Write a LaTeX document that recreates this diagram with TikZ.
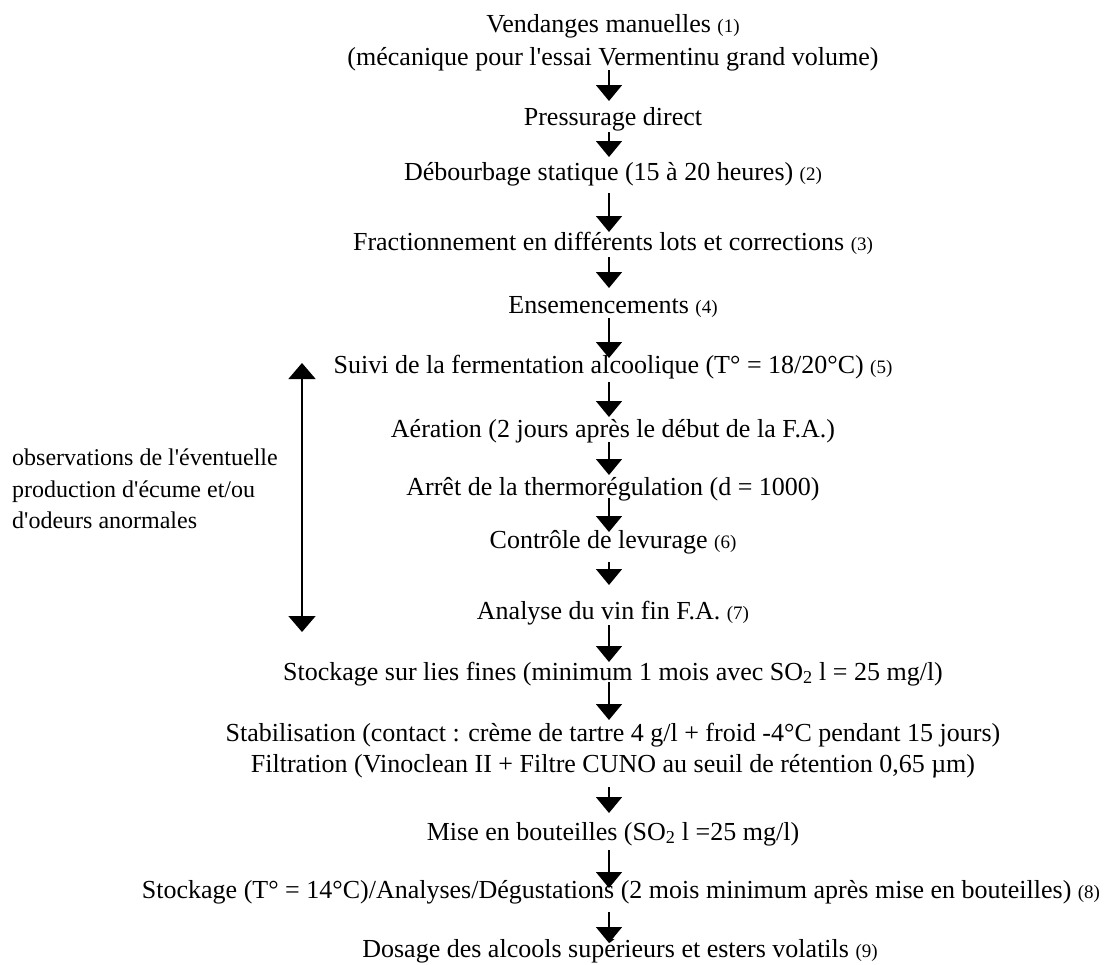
\documentclass[tikz,border=0pt]{standalone}
\usepackage{fontspec}
\setmainfont{Liberation Serif}[Ligatures=TeXOff]
\usepackage{tikz}
\usetikzlibrary{arrows.meta}
\newcommand{\renvoi}[1]{{\fontsize{19}{22}\selectfont(#1)}}
\tikzset{
Etape/.style={
 anchor=base,
 inner sep=0pt,
 font=\fontsize{26}{31}\selectfont
 },
Note/.style={
 anchor=base west,
 inner sep=0pt,
 font=\fontsize{24}{31}\selectfont
 },
Fleche/.style={
 draw=black,
 line width=1.6pt,
 -{Triangle[width=26pt,length=16pt]}
 },
DoubleFleche/.style={
 draw=black,
 line width=1.6pt,
 {Triangle[width=27pt,length=16pt]}-{Triangle[width=27pt,length=16pt]}
 }
}
\newcommand{\etape}[4]{\draw[Fleche] ([yshift=-#3pt]#1.base -| axe) -- ([yshift=#4pt]#2.base -| axe);}

\begin{document}
\begin{tikzpicture}[x=1pt,y=-1pt]
\useasboundingbox (0,0) rectangle (1110,964);
\coordinate (axe) at (609,0);
\node[Etape] (vendanges) at (613,32) {Vendanges manuelles \renvoi{1}};
\node[Etape] (mecanique) at (613,65) {(mécanique pour l'essai Vermentinu grand volume)};
\node[Etape] (pressurage) at (613,125) {Pressurage direct};
\node[Etape] (debourbage) at (613,180) {Débourbage statique (15 à 20 heures) \renvoi{2}};
\node[Etape] (fraction) at (613,250) {Fractionnement en différents lots et corrections \renvoi{3}};
\node[Etape] (ensemence) at (613,313) {Ensemencements \renvoi{4}};
\node[Etape] (suivi) at (613,373) {Suivi de la fermentation alcoolique (T° = 18/20°C) \renvoi{5}};
\node[Etape] (aeration) at (613,437) {Aération (2 jours après le début de la F.A.)};
\node[Etape] (arret) at (613,495) {Arrêt de la thermorégulation (d = 1000)};
\node[Etape] (controle) at (613,548) {Contrôle de levurage \renvoi{6}};
\node[Etape] (analyse) at (613,619) {Analyse du vin fin F.A. \renvoi{7}};
\node[Etape] (stocklies) at (613,680) {Stockage sur lies fines (minimum 1 mois avec SO\textsubscript{2} l = 25 mg/l)};
\node[Etape] (stabil) at (613,741) {Stabilisation (contact : crème de tartre 4 g/l + froid -4°C pendant 15 jours)};
\node[Etape] (filtration) at (613,772) {Filtration (Vinoclean II + Filtre CUNO au seuil de rétention 0,65 µm)};
\node[Etape] (bouteilles) at (613,840) {Mise en bouteilles (SO\textsubscript{2} l =25 mg/l)};
\node[Etape] (stockage) at (621,898) {Stockage (T° = 14°C)/Analyses/Dégustations (2 mois minimum après mise en bouteilles) \renvoi{8}};
\node[Etape] (dosage) at (620,957) {Dosage des alcools supérieurs et esters volatils \renvoi{9}};
\node[Note] (obs1) at (12,465) {observations de l'éventuelle};
\node[Note] (obs2) at (12,497) {production d'écume et/ou};
\node[Note] (obs3) at (12,528) {d'odeurs anormales};
\etape{mecanique}{pressurage}{5}{24}
\etape{pressurage}{debourbage}{7}{23}
\etape{debourbage}{fraction}{13}{18}
\etape{fraction}{ensemence}{7}{25}
\etape{ensemence}{suivi}{5}{15}
\etape{suivi}{aeration}{9}{20}
\etape{aeration}{arret}{5}{20}
\etape{arret}{controle}{3}{16}
\etape{controle}{analyse}{14}{34}
\etape{analyse}{stocklies}{6}{18}
\etape{stocklies}{stabil}{2}{21}
\etape{filtration}{bouteilles}{15}{27}
\etape{bouteilles}{stockage}{10}{10}
\etape{stockage}{dosage}{14}{14}
\coordinate (obshaut) at (302,363);
\coordinate (obsbas) at (302,632);
\draw[DoubleFleche] (obshaut) -- (obsbas);
\end{tikzpicture}
\end{document}
